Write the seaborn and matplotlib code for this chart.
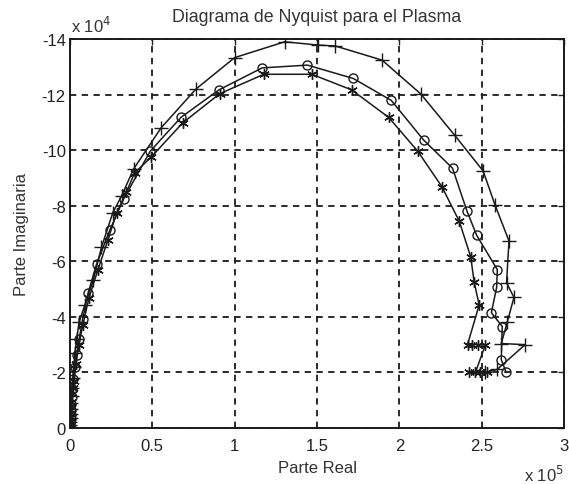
import numpy as np
import seaborn as sns
import matplotlib
matplotlib.use('Agg')
import matplotlib.pyplot as plt
from matplotlib.ticker import FuncFormatter, MultipleLocator

# real part in units of 1e5, imaginary part in units of 1e4
re_plus = [0.001, 0.002, 0.003, 0.004, 0.005, 0.006, 0.008, 0.010, 0.013, 0.017, 0.022, 0.030, 0.040, 0.055,
           0.090, 0.141, 0.191, 0.260, 0.314, 0.386, 0.553, 0.765, 1.000, 1.304, 1.509, 1.610, 1.895,
           2.129, 2.337, 2.509, 2.581, 2.666, 2.651, 2.696, 2.655, 2.619, 2.764, 2.595, 2.523]
im_plus = [-0.02, -0.10, -0.20, -0.35, -0.50, -0.70, -0.90, -1.15, -1.45, -1.80, -2.20, -2.70, -3.20, -3.80,
           -4.43, -5.32, -6.50, -7.75, -8.36, -9.32, -10.80, -12.20, -13.33, -13.90, -13.78, -13.75, -13.24,
           -12.03, -10.53, -9.25, -8.03, -6.73, -5.23, -4.70, -3.80, -3.04, -3.00, -2.11, -2.00]

re_circ = [0.001, 0.002, 0.003, 0.004, 0.005, 0.007, 0.009, 0.012, 0.015, 0.020, 0.030, 0.040, 0.056, 0.077,
           0.110, 0.161, 0.241, 0.326, 0.487, 0.674, 0.905, 1.167, 1.442, 1.720, 1.951, 2.148, 2.323,
           2.410, 2.470, 2.595, 2.591, 2.559, 2.625, 2.619, 2.649]
im_circ = [-0.02, -0.10, -0.20, -0.32, -0.48, -0.65, -0.85, -1.10, -1.40, -1.75, -2.18, -2.61, -3.21, -3.93,
           -4.86, -5.89, -7.11, -8.25, -9.96, -11.18, -12.17, -12.96, -13.06, -12.58, -11.79, -10.36, -9.35,
           -7.82, -6.93, -5.70, -5.06, -4.15, -3.65, -2.46, -2.00]

re_star = [0.001, 0.002, 0.003, 0.004, 0.005, 0.006, 0.008, 0.012, 0.018, 0.024, 0.036, 0.054, 0.078,
           0.115, 0.169, 0.229, 0.284, 0.342, 0.392, 0.493, 0.684, 0.909, 1.177, 1.468, 1.710, 1.935,
           2.112, 2.259, 2.364, 2.434, 2.454, 2.485, 2.414, 2.444, 2.480, 2.523, 2.462, 2.426, 2.492, 2.535]
im_star = [-0.02, -0.12, -0.25, -0.40, -0.55, -0.75, -0.95, -1.21, -1.45, -1.68, -2.29, -3.00, -3.71,
           -4.68, -5.68, -6.75, -7.75, -8.48, -9.18, -9.75, -10.98, -12.03, -12.73, -12.73, -12.17, -11.18,
           -9.96, -8.68, -7.44, -6.15, -5.26, -4.43, -3.00, -3.00, -3.00, -3.00, -2.00, -2.00, -2.00, -2.00]

sns.set_style('white')
plt.rcParams['font.family'] = ['Liberation Sans', 'DejaVu Sans']

fig = plt.figure(figsize=(5.69, 4.85), dpi=100)
ax = fig.add_axes([70 / 569, 1 - 429 / 485, 494 / 569, 389 / 485])

ink = '#1a1a1a'
series = [(re_plus, im_plus, '+', 10), (re_circ, im_circ, 'o', 6.5), (re_star, im_star, (6, 2, 0), 7.5)]
for re, im, mk, ms in series:
    sns.lineplot(x=np.array(re) * 1e5, y=np.array(im) * 1e4, sort=False, estimator=None, ax=ax,
                 color=ink, linewidth=1.1, marker=mk, markersize=ms,
                 markerfacecolor='none', markeredgecolor=ink, markeredgewidth=1.0)

ax.set_xlim(0, 3e5)
ax.set_ylim(0, -14e4)
ax.xaxis.set_major_locator(MultipleLocator(0.5e5))
ax.yaxis.set_major_locator(MultipleLocator(2e4))
ax.xaxis.set_major_formatter(FuncFormatter(lambda v, p: '%g' % (v / 1e5)))
ax.yaxis.set_major_formatter(FuncFormatter(lambda v, p: '%g' % (v / 1e4)))
ax.grid(True, color=ink, linestyle=(0, (3.5, 3)), linewidth=1.3)
ax.tick_params(direction='in', length=4, width=1, top=True, right=True, labelsize=12,
               colors='#222222')
ax.tick_params(axis='x', pad=7)
ax.tick_params(axis='y', pad=3)
for s in ax.spines.values():
    s.set_color(ink)
    s.set_linewidth(1.4)

ax.set_xlabel('Parte Real', fontsize=12, color='#333333', labelpad=5)
ax.set_ylabel('Parte Imaginaria', fontsize=12, color='#333333', labelpad=9)
ax.set_title('Diagrama de Nyquist para el Plasma', fontsize=12.8, color='#333333', pad=13)
fig.text(71 / 569, 1 - 33 / 485, r'x 10$^{4}$', fontsize=12, color='#333333')
fig.text(524 / 569, 1 - 482 / 485, r'x 10$^{5}$', fontsize=12, color='#333333')

fig.savefig('out.png', dpi=100)
